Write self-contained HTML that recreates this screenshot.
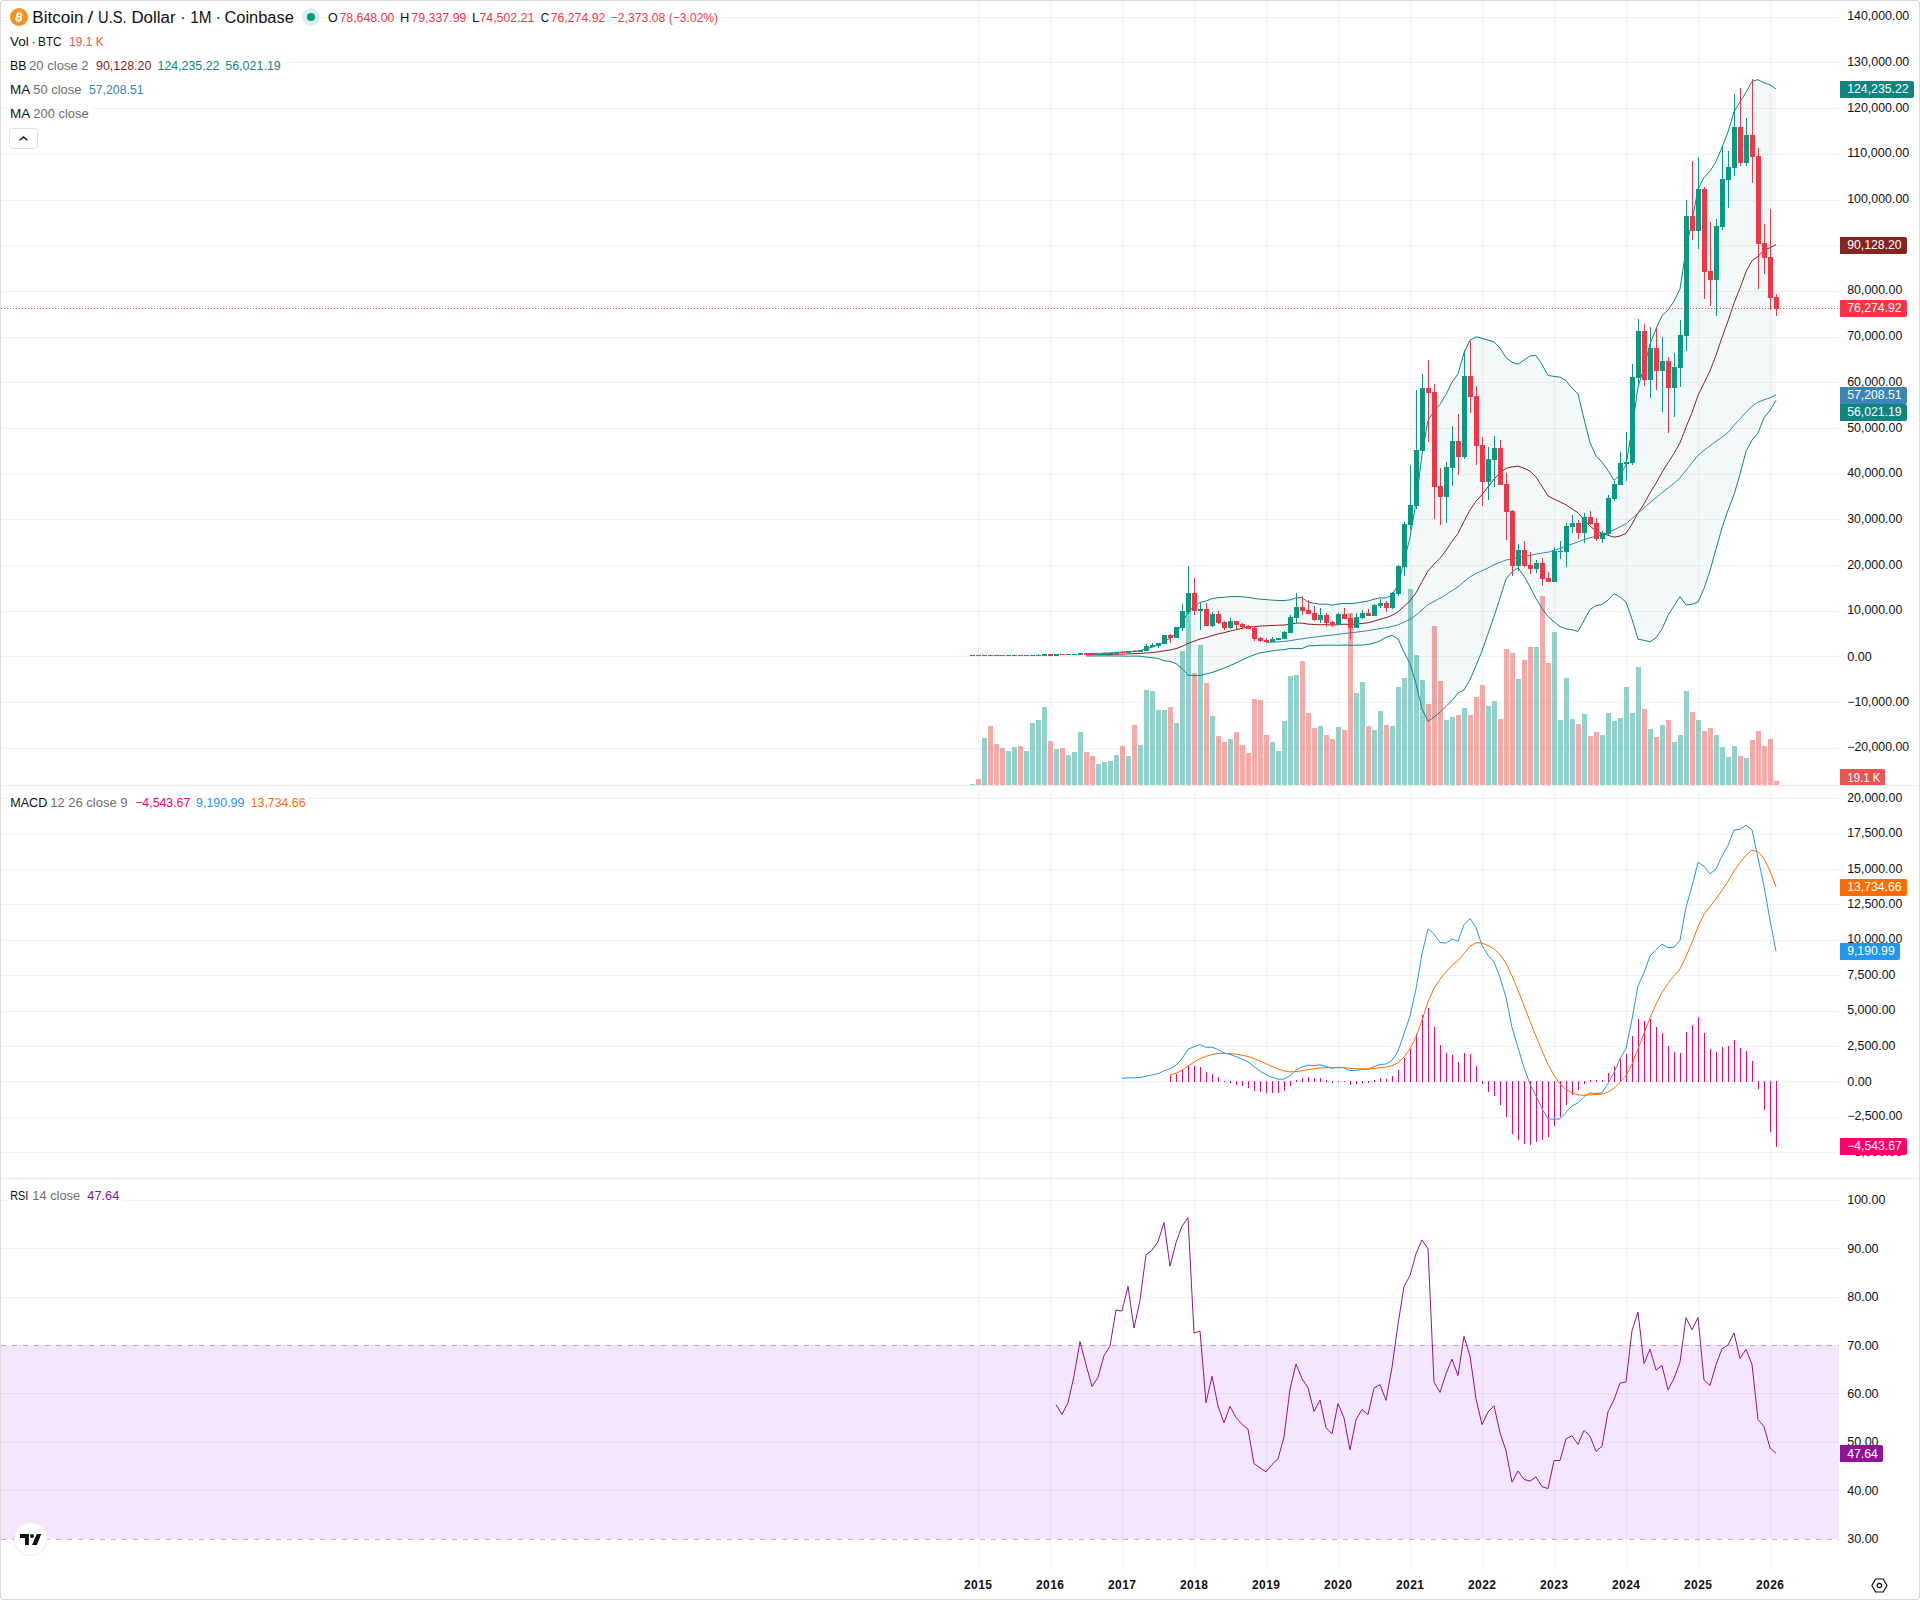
<!DOCTYPE html>
<html><head><meta charset="utf-8"><title>BTCUSD chart</title>
<style>
html,body{margin:0;padding:0;background:#fff;}
body{width:1920px;height:1600px;overflow:hidden;position:relative;font-family:"Liberation Sans",sans-serif;}
#frame{position:absolute;left:0;top:0;width:1918px;height:1598px;border:1px solid #dbdbde;border-radius:3px;background:#fff;}
svg text{font-family:"Liberation Sans",sans-serif;}
</style></head><body>
<div id="frame"></div>
<svg width="1920" height="1600" viewBox="0 0 1920 1600" style="position:absolute;left:0;top:0">
<g shape-rendering="crispEdges" fill="rgba(0,0,0,0.052)">
<rect x="978" y="1" width="1" height="784"/>
<rect x="978" y="786" width="1" height="392"/>
<rect x="978" y="1179" width="1" height="392"/>
<rect x="1050" y="1" width="1" height="784"/>
<rect x="1050" y="786" width="1" height="392"/>
<rect x="1050" y="1179" width="1" height="392"/>
<rect x="1122" y="1" width="1" height="784"/>
<rect x="1122" y="786" width="1" height="392"/>
<rect x="1122" y="1179" width="1" height="392"/>
<rect x="1194" y="1" width="1" height="784"/>
<rect x="1194" y="786" width="1" height="392"/>
<rect x="1194" y="1179" width="1" height="392"/>
<rect x="1266" y="1" width="1" height="784"/>
<rect x="1266" y="786" width="1" height="392"/>
<rect x="1266" y="1179" width="1" height="392"/>
<rect x="1338" y="1" width="1" height="784"/>
<rect x="1338" y="786" width="1" height="392"/>
<rect x="1338" y="1179" width="1" height="392"/>
<rect x="1410" y="1" width="1" height="784"/>
<rect x="1410" y="786" width="1" height="392"/>
<rect x="1410" y="1179" width="1" height="392"/>
<rect x="1482" y="1" width="1" height="784"/>
<rect x="1482" y="786" width="1" height="392"/>
<rect x="1482" y="1179" width="1" height="392"/>
<rect x="1554" y="1" width="1" height="784"/>
<rect x="1554" y="786" width="1" height="392"/>
<rect x="1554" y="1179" width="1" height="392"/>
<rect x="1626" y="1" width="1" height="784"/>
<rect x="1626" y="786" width="1" height="392"/>
<rect x="1626" y="1179" width="1" height="392"/>
<rect x="1698" y="1" width="1" height="784"/>
<rect x="1698" y="786" width="1" height="392"/>
<rect x="1698" y="1179" width="1" height="392"/>
<rect x="1770" y="1" width="1" height="784"/>
<rect x="1770" y="786" width="1" height="392"/>
<rect x="1770" y="1179" width="1" height="392"/>
<rect x="1" y="748" width="1838" height="1"/>
<rect x="1" y="702" width="1838" height="1"/>
<rect x="1" y="656" width="1838" height="1"/>
<rect x="1" y="611" width="1838" height="1"/>
<rect x="1" y="565" width="1838" height="1"/>
<rect x="1" y="519" width="1838" height="1"/>
<rect x="1" y="474" width="1838" height="1"/>
<rect x="1" y="428" width="1838" height="1"/>
<rect x="1" y="382" width="1838" height="1"/>
<rect x="1" y="337" width="1838" height="1"/>
<rect x="1" y="291" width="1838" height="1"/>
<rect x="1" y="245" width="1838" height="1"/>
<rect x="1" y="200" width="1838" height="1"/>
<rect x="1" y="154" width="1838" height="1"/>
<rect x="1" y="108" width="1838" height="1"/>
<rect x="1" y="62" width="1838" height="1"/>
<rect x="1" y="17" width="1838" height="1"/>
<rect x="1" y="1152" width="1838" height="1"/>
<rect x="1" y="1117" width="1838" height="1"/>
<rect x="1" y="1081" width="1838" height="1"/>
<rect x="1" y="1046" width="1838" height="1"/>
<rect x="1" y="1011" width="1838" height="1"/>
<rect x="1" y="975" width="1838" height="1"/>
<rect x="1" y="940" width="1838" height="1"/>
<rect x="1" y="904" width="1838" height="1"/>
<rect x="1" y="869" width="1838" height="1"/>
<rect x="1" y="834" width="1838" height="1"/>
<rect x="1" y="798" width="1838" height="1"/>
<rect x="1" y="1490" width="1838" height="1"/>
<rect x="1" y="1442" width="1838" height="1"/>
<rect x="1" y="1393" width="1838" height="1"/>
<rect x="1" y="1297" width="1838" height="1"/>
<rect x="1" y="1248" width="1838" height="1"/>
<rect x="1" y="1200" width="1838" height="1"/>
</g>
<g shape-rendering="crispEdges" fill="#ebebeb"><rect x="1" y="785" width="1918" height="1"/><rect x="1" y="1178" width="1918" height="1"/></g>
<rect x="1" y="1345" width="1838" height="194" fill="rgba(156,39,240,0.115)" shape-rendering="crispEdges"/>
<line x1="1" y1="1345.5" x2="1839" y2="1345.5" stroke="#787b86" stroke-opacity="0.55" stroke-width="1" stroke-dasharray="5 6" shape-rendering="crispEdges"/>
<line x1="1" y1="1539.5" x2="1839" y2="1539.5" stroke="#787b86" stroke-opacity="0.55" stroke-width="1" stroke-dasharray="5 6" shape-rendering="crispEdges"/>
<g shape-rendering="crispEdges">
<rect x="970" y="784" width="5" height="1" fill="rgba(38,166,154,0.5)"/>
<rect x="976" y="779" width="5" height="6" fill="rgba(239,83,80,0.5)"/>
<rect x="982" y="738" width="5" height="47" fill="rgba(38,166,154,0.5)"/>
<rect x="988" y="726" width="5" height="59" fill="rgba(239,83,80,0.5)"/>
<rect x="994" y="744" width="5" height="41" fill="rgba(239,83,80,0.5)"/>
<rect x="1000" y="748" width="5" height="37" fill="rgba(239,83,80,0.5)"/>
<rect x="1006" y="751" width="5" height="34" fill="rgba(38,166,154,0.5)"/>
<rect x="1012" y="747" width="5" height="38" fill="rgba(38,166,154,0.5)"/>
<rect x="1018" y="746" width="5" height="39" fill="rgba(239,83,80,0.5)"/>
<rect x="1024" y="751" width="5" height="34" fill="rgba(38,166,154,0.5)"/>
<rect x="1030" y="723" width="5" height="62" fill="rgba(38,166,154,0.5)"/>
<rect x="1036" y="720" width="5" height="65" fill="rgba(38,166,154,0.5)"/>
<rect x="1042" y="707" width="5" height="78" fill="rgba(38,166,154,0.5)"/>
<rect x="1048" y="741" width="5" height="44" fill="rgba(239,83,80,0.5)"/>
<rect x="1054" y="749" width="5" height="36" fill="rgba(38,166,154,0.5)"/>
<rect x="1060" y="748" width="5" height="37" fill="rgba(239,83,80,0.5)"/>
<rect x="1066" y="755" width="5" height="30" fill="rgba(38,166,154,0.5)"/>
<rect x="1072" y="752" width="5" height="33" fill="rgba(38,166,154,0.5)"/>
<rect x="1078" y="732" width="5" height="53" fill="rgba(38,166,154,0.5)"/>
<rect x="1084" y="752" width="5" height="33" fill="rgba(239,83,80,0.5)"/>
<rect x="1090" y="756" width="5" height="29" fill="rgba(239,83,80,0.5)"/>
<rect x="1096" y="764" width="5" height="21" fill="rgba(38,166,154,0.5)"/>
<rect x="1102" y="762" width="5" height="23" fill="rgba(38,166,154,0.5)"/>
<rect x="1108" y="761" width="5" height="24" fill="rgba(38,166,154,0.5)"/>
<rect x="1114" y="755" width="5" height="30" fill="rgba(38,166,154,0.5)"/>
<rect x="1120" y="746" width="5" height="39" fill="rgba(239,83,80,0.5)"/>
<rect x="1126" y="756" width="5" height="29" fill="rgba(38,166,154,0.5)"/>
<rect x="1132" y="725" width="5" height="60" fill="rgba(239,83,80,0.5)"/>
<rect x="1138" y="745" width="5" height="40" fill="rgba(38,166,154,0.5)"/>
<rect x="1144" y="690" width="5" height="95" fill="rgba(38,166,154,0.5)"/>
<rect x="1150" y="691" width="5" height="94" fill="rgba(38,166,154,0.5)"/>
<rect x="1156" y="710" width="5" height="75" fill="rgba(38,166,154,0.5)"/>
<rect x="1162" y="710" width="5" height="75" fill="rgba(38,166,154,0.5)"/>
<rect x="1168" y="707" width="5" height="78" fill="rgba(239,83,80,0.5)"/>
<rect x="1174" y="723" width="5" height="62" fill="rgba(38,166,154,0.5)"/>
<rect x="1180" y="651" width="5" height="134" fill="rgba(38,166,154,0.5)"/>
<rect x="1186" y="612" width="5" height="173" fill="rgba(38,166,154,0.5)"/>
<rect x="1192" y="673" width="5" height="112" fill="rgba(239,83,80,0.5)"/>
<rect x="1198" y="645" width="5" height="140" fill="rgba(38,166,154,0.5)"/>
<rect x="1204" y="683" width="5" height="102" fill="rgba(239,83,80,0.5)"/>
<rect x="1210" y="716" width="5" height="69" fill="rgba(38,166,154,0.5)"/>
<rect x="1216" y="736" width="5" height="49" fill="rgba(239,83,80,0.5)"/>
<rect x="1222" y="742" width="5" height="43" fill="rgba(239,83,80,0.5)"/>
<rect x="1228" y="739" width="5" height="46" fill="rgba(38,166,154,0.5)"/>
<rect x="1234" y="732" width="5" height="53" fill="rgba(239,83,80,0.5)"/>
<rect x="1240" y="745" width="5" height="40" fill="rgba(239,83,80,0.5)"/>
<rect x="1246" y="753" width="5" height="32" fill="rgba(239,83,80,0.5)"/>
<rect x="1252" y="699" width="5" height="86" fill="rgba(239,83,80,0.5)"/>
<rect x="1258" y="700" width="5" height="85" fill="rgba(239,83,80,0.5)"/>
<rect x="1264" y="735" width="5" height="50" fill="rgba(239,83,80,0.5)"/>
<rect x="1270" y="742" width="5" height="43" fill="rgba(38,166,154,0.5)"/>
<rect x="1276" y="751" width="5" height="34" fill="rgba(38,166,154,0.5)"/>
<rect x="1282" y="721" width="5" height="64" fill="rgba(38,166,154,0.5)"/>
<rect x="1288" y="676" width="5" height="109" fill="rgba(38,166,154,0.5)"/>
<rect x="1294" y="675" width="5" height="110" fill="rgba(38,166,154,0.5)"/>
<rect x="1300" y="661" width="5" height="124" fill="rgba(239,83,80,0.5)"/>
<rect x="1306" y="713" width="5" height="72" fill="rgba(239,83,80,0.5)"/>
<rect x="1312" y="728" width="5" height="57" fill="rgba(239,83,80,0.5)"/>
<rect x="1318" y="726" width="5" height="59" fill="rgba(38,166,154,0.5)"/>
<rect x="1324" y="735" width="5" height="50" fill="rgba(239,83,80,0.5)"/>
<rect x="1330" y="739" width="5" height="46" fill="rgba(239,83,80,0.5)"/>
<rect x="1336" y="727" width="5" height="58" fill="rgba(38,166,154,0.5)"/>
<rect x="1342" y="730" width="5" height="55" fill="rgba(239,83,80,0.5)"/>
<rect x="1348" y="613" width="5" height="172" fill="rgba(239,83,80,0.5)"/>
<rect x="1354" y="693" width="5" height="92" fill="rgba(38,166,154,0.5)"/>
<rect x="1360" y="682" width="5" height="103" fill="rgba(38,166,154,0.5)"/>
<rect x="1366" y="726" width="5" height="59" fill="rgba(239,83,80,0.5)"/>
<rect x="1372" y="730" width="5" height="55" fill="rgba(38,166,154,0.5)"/>
<rect x="1378" y="711" width="5" height="74" fill="rgba(38,166,154,0.5)"/>
<rect x="1384" y="725" width="5" height="60" fill="rgba(239,83,80,0.5)"/>
<rect x="1390" y="726" width="5" height="59" fill="rgba(38,166,154,0.5)"/>
<rect x="1396" y="687" width="5" height="98" fill="rgba(38,166,154,0.5)"/>
<rect x="1402" y="678" width="5" height="107" fill="rgba(38,166,154,0.5)"/>
<rect x="1408" y="589" width="5" height="196" fill="rgba(38,166,154,0.5)"/>
<rect x="1414" y="655" width="5" height="130" fill="rgba(38,166,154,0.5)"/>
<rect x="1420" y="680" width="5" height="105" fill="rgba(38,166,154,0.5)"/>
<rect x="1426" y="704" width="5" height="81" fill="rgba(239,83,80,0.5)"/>
<rect x="1432" y="626" width="5" height="159" fill="rgba(239,83,80,0.5)"/>
<rect x="1438" y="681" width="5" height="104" fill="rgba(239,83,80,0.5)"/>
<rect x="1444" y="720" width="5" height="65" fill="rgba(38,166,154,0.5)"/>
<rect x="1450" y="717" width="5" height="68" fill="rgba(38,166,154,0.5)"/>
<rect x="1456" y="715" width="5" height="70" fill="rgba(239,83,80,0.5)"/>
<rect x="1462" y="708" width="5" height="77" fill="rgba(38,166,154,0.5)"/>
<rect x="1468" y="715" width="5" height="70" fill="rgba(239,83,80,0.5)"/>
<rect x="1474" y="697" width="5" height="88" fill="rgba(239,83,80,0.5)"/>
<rect x="1480" y="685" width="5" height="100" fill="rgba(239,83,80,0.5)"/>
<rect x="1486" y="706" width="5" height="79" fill="rgba(38,166,154,0.5)"/>
<rect x="1492" y="701" width="5" height="84" fill="rgba(38,166,154,0.5)"/>
<rect x="1498" y="719" width="5" height="66" fill="rgba(239,83,80,0.5)"/>
<rect x="1504" y="649" width="5" height="136" fill="rgba(239,83,80,0.5)"/>
<rect x="1510" y="653" width="5" height="132" fill="rgba(239,83,80,0.5)"/>
<rect x="1516" y="679" width="5" height="106" fill="rgba(38,166,154,0.5)"/>
<rect x="1522" y="660" width="5" height="125" fill="rgba(239,83,80,0.5)"/>
<rect x="1528" y="647" width="5" height="138" fill="rgba(239,83,80,0.5)"/>
<rect x="1534" y="647" width="5" height="138" fill="rgba(38,166,154,0.5)"/>
<rect x="1540" y="596" width="5" height="189" fill="rgba(239,83,80,0.5)"/>
<rect x="1546" y="663" width="5" height="122" fill="rgba(239,83,80,0.5)"/>
<rect x="1552" y="632" width="5" height="153" fill="rgba(38,166,154,0.5)"/>
<rect x="1558" y="720" width="5" height="65" fill="rgba(38,166,154,0.5)"/>
<rect x="1564" y="678" width="5" height="107" fill="rgba(38,166,154,0.5)"/>
<rect x="1570" y="719" width="5" height="66" fill="rgba(38,166,154,0.5)"/>
<rect x="1576" y="724" width="5" height="61" fill="rgba(239,83,80,0.5)"/>
<rect x="1582" y="714" width="5" height="71" fill="rgba(38,166,154,0.5)"/>
<rect x="1588" y="736" width="5" height="49" fill="rgba(239,83,80,0.5)"/>
<rect x="1594" y="732" width="5" height="53" fill="rgba(239,83,80,0.5)"/>
<rect x="1600" y="735" width="5" height="50" fill="rgba(38,166,154,0.5)"/>
<rect x="1606" y="713" width="5" height="72" fill="rgba(38,166,154,0.5)"/>
<rect x="1612" y="721" width="5" height="64" fill="rgba(38,166,154,0.5)"/>
<rect x="1618" y="718" width="5" height="67" fill="rgba(38,166,154,0.5)"/>
<rect x="1624" y="687" width="5" height="98" fill="rgba(38,166,154,0.5)"/>
<rect x="1630" y="713" width="5" height="72" fill="rgba(38,166,154,0.5)"/>
<rect x="1636" y="667" width="5" height="118" fill="rgba(38,166,154,0.5)"/>
<rect x="1642" y="709" width="5" height="76" fill="rgba(239,83,80,0.5)"/>
<rect x="1648" y="729" width="5" height="56" fill="rgba(38,166,154,0.5)"/>
<rect x="1654" y="737" width="5" height="48" fill="rgba(239,83,80,0.5)"/>
<rect x="1660" y="725" width="5" height="60" fill="rgba(38,166,154,0.5)"/>
<rect x="1666" y="720" width="5" height="65" fill="rgba(239,83,80,0.5)"/>
<rect x="1672" y="742" width="5" height="43" fill="rgba(38,166,154,0.5)"/>
<rect x="1678" y="735" width="5" height="50" fill="rgba(38,166,154,0.5)"/>
<rect x="1684" y="691" width="5" height="94" fill="rgba(38,166,154,0.5)"/>
<rect x="1690" y="712" width="5" height="73" fill="rgba(239,83,80,0.5)"/>
<rect x="1696" y="720" width="5" height="65" fill="rgba(38,166,154,0.5)"/>
<rect x="1702" y="731" width="5" height="54" fill="rgba(239,83,80,0.5)"/>
<rect x="1708" y="728" width="5" height="57" fill="rgba(239,83,80,0.5)"/>
<rect x="1714" y="735" width="5" height="50" fill="rgba(38,166,154,0.5)"/>
<rect x="1720" y="747" width="5" height="38" fill="rgba(38,166,154,0.5)"/>
<rect x="1726" y="757" width="5" height="28" fill="rgba(38,166,154,0.5)"/>
<rect x="1732" y="746" width="5" height="39" fill="rgba(38,166,154,0.5)"/>
<rect x="1738" y="756" width="5" height="29" fill="rgba(239,83,80,0.5)"/>
<rect x="1744" y="758" width="5" height="27" fill="rgba(38,166,154,0.5)"/>
<rect x="1750" y="740" width="5" height="45" fill="rgba(239,83,80,0.5)"/>
<rect x="1756" y="731" width="5" height="54" fill="rgba(239,83,80,0.5)"/>
<rect x="1762" y="746" width="5" height="39" fill="rgba(239,83,80,0.5)"/>
<rect x="1768" y="739" width="5" height="46" fill="rgba(239,83,80,0.5)"/>
<rect x="1774" y="781" width="5" height="4" fill="rgba(239,83,80,0.5)"/>
</g>
<path d="M1086.0 653.6 L1092.0 653.4 L1098.0 653.3 L1104.0 653.1 L1110.0 652.9 L1116.0 652.4 L1122.0 652.1 L1128.0 651.5 L1134.0 651.2 L1140.0 650.7 L1146.0 648.8 L1152.0 647.2 L1158.0 645.4 L1164.0 641.1 L1170.0 638.6 L1176.0 633.6 L1182.0 624.4 L1188.0 611.7 L1194.0 606.8 L1200.0 602.4 L1206.0 601.1 L1212.0 598.6 L1218.0 597.6 L1224.0 597.3 L1230.0 596.6 L1236.0 596.5 L1242.0 596.8 L1248.0 597.4 L1254.0 598.3 L1260.0 599.2 L1266.0 599.6 L1272.0 600.1 L1278.0 600.5 L1284.0 600.5 L1290.0 599.9 L1296.0 597.8 L1302.0 597.7 L1308.0 602.1 L1314.0 603.3 L1320.0 604.2 L1326.0 604.1 L1332.0 605.1 L1338.0 604.1 L1344.0 603.4 L1350.0 603.7 L1356.0 603.1 L1362.0 602.0 L1368.0 601.1 L1374.0 599.2 L1380.0 597.8 L1386.0 597.9 L1392.0 595.4 L1398.0 584.9 L1404.0 560.9 L1410.0 537.8 L1416.0 501.9 L1422.0 454.8 L1428.0 420.3 L1434.0 411.0 L1440.0 404.2 L1446.0 394.5 L1452.0 382.2 L1458.0 373.9 L1464.0 352.8 L1470.0 340.2 L1476.0 336.9 L1482.0 338.3 L1488.0 340.0 L1494.0 341.8 L1500.0 348.1 L1506.0 357.7 L1512.0 362.1 L1518.0 364.2 L1524.0 360.2 L1530.0 355.9 L1536.0 355.4 L1542.0 364.5 L1548.0 375.4 L1554.0 376.4 L1560.0 377.1 L1566.0 380.7 L1572.0 388.1 L1578.0 394.0 L1584.0 418.9 L1590.0 442.6 L1596.0 455.8 L1602.0 462.1 L1608.0 470.4 L1614.0 480.4 L1620.0 474.9 L1626.0 465.1 L1632.0 429.0 L1638.0 387.0 L1644.0 367.5 L1650.0 344.0 L1656.0 328.8 L1662.0 315.7 L1668.0 310.1 L1674.0 301.1 L1680.0 288.9 L1686.0 249.5 L1692.0 221.0 L1698.0 188.8 L1704.0 177.6 L1710.0 171.2 L1716.0 161.6 L1722.0 147.4 L1728.0 131.9 L1734.0 111.7 L1740.0 102.0 L1746.0 92.3 L1752.0 81.3 L1758.0 79.7 L1764.0 82.8 L1770.0 84.8 L1776.0 88.9 L1776.0 400.3 L1770.0 410.6 L1764.0 417.7 L1758.0 433.1 L1752.0 440.2 L1746.0 451.3 L1740.0 474.3 L1734.0 494.7 L1728.0 510.2 L1722.0 527.8 L1716.0 549.1 L1710.0 570.6 L1704.0 588.6 L1698.0 602.1 L1692.0 604.2 L1686.0 605.0 L1680.0 596.6 L1674.0 605.9 L1668.0 615.3 L1662.0 629.1 L1656.0 637.7 L1650.0 641.8 L1644.0 640.3 L1638.0 639.2 L1632.0 619.2 L1626.0 602.0 L1620.0 597.1 L1614.0 593.7 L1608.0 600.1 L1602.0 604.5 L1596.0 605.5 L1590.0 609.5 L1584.0 620.6 L1578.0 631.4 L1572.0 629.7 L1566.0 628.9 L1560.0 626.6 L1554.0 621.8 L1548.0 616.4 L1542.0 608.4 L1536.0 598.5 L1530.0 586.7 L1524.0 576.1 L1518.0 568.0 L1512.0 571.8 L1506.0 579.0 L1500.0 598.2 L1494.0 616.4 L1488.0 633.8 L1482.0 651.0 L1476.0 665.7 L1470.0 679.6 L1464.0 690.0 L1458.0 693.1 L1452.0 700.5 L1446.0 706.5 L1440.0 712.3 L1434.0 717.3 L1428.0 721.3 L1422.0 708.8 L1416.0 683.9 L1410.0 663.8 L1404.0 651.9 L1398.0 638.8 L1392.0 635.3 L1386.0 637.4 L1380.0 640.9 L1374.0 643.1 L1368.0 644.6 L1362.0 645.0 L1356.0 645.2 L1350.0 645.3 L1344.0 645.0 L1338.0 645.3 L1332.0 645.1 L1326.0 645.2 L1320.0 645.3 L1314.0 645.7 L1308.0 646.0 L1302.0 648.5 L1296.0 648.5 L1290.0 648.4 L1284.0 649.7 L1278.0 650.0 L1272.0 650.9 L1266.0 652.0 L1260.0 652.9 L1254.0 654.9 L1248.0 657.2 L1242.0 660.1 L1236.0 663.0 L1230.0 665.6 L1224.0 668.1 L1218.0 670.4 L1212.0 672.5 L1206.0 674.0 L1200.0 675.5 L1194.0 675.6 L1188.0 675.1 L1182.0 668.4 L1176.0 663.6 L1170.0 661.4 L1164.0 660.7 L1158.0 658.4 L1152.0 657.7 L1146.0 657.1 L1140.0 656.2 L1134.0 656.1 L1128.0 656.2 L1122.0 656.0 L1116.0 656.0 L1110.0 655.9 L1104.0 655.9 L1098.0 655.9 L1092.0 656.0 L1086.0 656.0Z" fill="rgba(17,132,128,0.05)"/>
<path d="M1086.0 654.8 L1092.0 654.7 L1098.0 654.6 L1104.0 654.5 L1110.0 654.4 L1116.0 654.2 L1122.0 654.1 L1128.0 653.9 L1134.0 653.7 L1140.0 653.4 L1146.0 653.0 L1152.0 652.5 L1158.0 651.9 L1164.0 650.9 L1170.0 650.0 L1176.0 648.6 L1182.0 646.4 L1188.0 643.4 L1194.0 641.2 L1200.0 639.0 L1206.0 637.6 L1212.0 635.6 L1218.0 634.0 L1224.0 632.7 L1230.0 631.1 L1236.0 629.7 L1242.0 628.4 L1248.0 627.3 L1254.0 626.6 L1260.0 626.1 L1266.0 625.8 L1272.0 625.5 L1278.0 625.2 L1284.0 625.1 L1290.0 624.2 L1296.0 623.1 L1302.0 623.1 L1308.0 624.1 L1314.0 624.5 L1320.0 624.8 L1326.0 624.6 L1332.0 625.1 L1338.0 624.7 L1344.0 624.2 L1350.0 624.5 L1356.0 624.1 L1362.0 623.5 L1368.0 622.8 L1374.0 621.2 L1380.0 619.3 L1386.0 617.7 L1392.0 615.4 L1398.0 611.8 L1404.0 606.4 L1410.0 600.8 L1416.0 592.9 L1422.0 581.8 L1428.0 570.8 L1434.0 564.2 L1440.0 558.2 L1446.0 550.5 L1452.0 541.4 L1458.0 533.5 L1464.0 521.4 L1470.0 509.9 L1476.0 501.3 L1482.0 494.7 L1488.0 486.9 L1494.0 479.1 L1500.0 473.1 L1506.0 468.3 L1512.0 466.9 L1518.0 466.1 L1524.0 468.2 L1530.0 471.3 L1536.0 476.9 L1542.0 486.4 L1548.0 495.9 L1554.0 499.1 L1560.0 501.8 L1566.0 504.8 L1572.0 508.9 L1578.0 512.7 L1584.0 519.7 L1590.0 526.1 L1596.0 530.7 L1602.0 533.3 L1608.0 535.3 L1614.0 537.1 L1620.0 536.0 L1626.0 533.5 L1632.0 524.1 L1638.0 513.1 L1644.0 503.9 L1650.0 492.9 L1656.0 483.2 L1662.0 472.4 L1668.0 462.7 L1674.0 453.5 L1680.0 442.8 L1686.0 427.2 L1692.0 412.6 L1698.0 395.4 L1704.0 383.1 L1710.0 370.9 L1716.0 355.3 L1722.0 337.6 L1728.0 321.0 L1734.0 303.2 L1740.0 288.1 L1746.0 271.8 L1752.0 260.7 L1758.0 256.4 L1764.0 250.2 L1770.0 247.7 L1776.0 244.6" fill="none" stroke="#872323" stroke-width="1" stroke-linejoin="round"/>
<path d="M1086.0 653.6 L1092.0 653.4 L1098.0 653.3 L1104.0 653.1 L1110.0 652.9 L1116.0 652.4 L1122.0 652.1 L1128.0 651.5 L1134.0 651.2 L1140.0 650.7 L1146.0 648.8 L1152.0 647.2 L1158.0 645.4 L1164.0 641.1 L1170.0 638.6 L1176.0 633.6 L1182.0 624.4 L1188.0 611.7 L1194.0 606.8 L1200.0 602.4 L1206.0 601.1 L1212.0 598.6 L1218.0 597.6 L1224.0 597.3 L1230.0 596.6 L1236.0 596.5 L1242.0 596.8 L1248.0 597.4 L1254.0 598.3 L1260.0 599.2 L1266.0 599.6 L1272.0 600.1 L1278.0 600.5 L1284.0 600.5 L1290.0 599.9 L1296.0 597.8 L1302.0 597.7 L1308.0 602.1 L1314.0 603.3 L1320.0 604.2 L1326.0 604.1 L1332.0 605.1 L1338.0 604.1 L1344.0 603.4 L1350.0 603.7 L1356.0 603.1 L1362.0 602.0 L1368.0 601.1 L1374.0 599.2 L1380.0 597.8 L1386.0 597.9 L1392.0 595.4 L1398.0 584.9 L1404.0 560.9 L1410.0 537.8 L1416.0 501.9 L1422.0 454.8 L1428.0 420.3 L1434.0 411.0 L1440.0 404.2 L1446.0 394.5 L1452.0 382.2 L1458.0 373.9 L1464.0 352.8 L1470.0 340.2 L1476.0 336.9 L1482.0 338.3 L1488.0 340.0 L1494.0 341.8 L1500.0 348.1 L1506.0 357.7 L1512.0 362.1 L1518.0 364.2 L1524.0 360.2 L1530.0 355.9 L1536.0 355.4 L1542.0 364.5 L1548.0 375.4 L1554.0 376.4 L1560.0 377.1 L1566.0 380.7 L1572.0 388.1 L1578.0 394.0 L1584.0 418.9 L1590.0 442.6 L1596.0 455.8 L1602.0 462.1 L1608.0 470.4 L1614.0 480.4 L1620.0 474.9 L1626.0 465.1 L1632.0 429.0 L1638.0 387.0 L1644.0 367.5 L1650.0 344.0 L1656.0 328.8 L1662.0 315.7 L1668.0 310.1 L1674.0 301.1 L1680.0 288.9 L1686.0 249.5 L1692.0 221.0 L1698.0 188.8 L1704.0 177.6 L1710.0 171.2 L1716.0 161.6 L1722.0 147.4 L1728.0 131.9 L1734.0 111.7 L1740.0 102.0 L1746.0 92.3 L1752.0 81.3 L1758.0 79.7 L1764.0 82.8 L1770.0 84.8 L1776.0 88.9" fill="none" stroke="#118480" stroke-width="1" stroke-linejoin="round"/>
<path d="M1086.0 656.0 L1092.0 656.0 L1098.0 655.9 L1104.0 655.9 L1110.0 655.9 L1116.0 656.0 L1122.0 656.0 L1128.0 656.2 L1134.0 656.1 L1140.0 656.2 L1146.0 657.1 L1152.0 657.7 L1158.0 658.4 L1164.0 660.7 L1170.0 661.4 L1176.0 663.6 L1182.0 668.4 L1188.0 675.1 L1194.0 675.6 L1200.0 675.5 L1206.0 674.0 L1212.0 672.5 L1218.0 670.4 L1224.0 668.1 L1230.0 665.6 L1236.0 663.0 L1242.0 660.1 L1248.0 657.2 L1254.0 654.9 L1260.0 652.9 L1266.0 652.0 L1272.0 650.9 L1278.0 650.0 L1284.0 649.7 L1290.0 648.4 L1296.0 648.5 L1302.0 648.5 L1308.0 646.0 L1314.0 645.7 L1320.0 645.3 L1326.0 645.2 L1332.0 645.1 L1338.0 645.3 L1344.0 645.0 L1350.0 645.3 L1356.0 645.2 L1362.0 645.0 L1368.0 644.6 L1374.0 643.1 L1380.0 640.9 L1386.0 637.4 L1392.0 635.3 L1398.0 638.8 L1404.0 651.9 L1410.0 663.8 L1416.0 683.9 L1422.0 708.8 L1428.0 721.3 L1434.0 717.3 L1440.0 712.3 L1446.0 706.5 L1452.0 700.5 L1458.0 693.1 L1464.0 690.0 L1470.0 679.6 L1476.0 665.7 L1482.0 651.0 L1488.0 633.8 L1494.0 616.4 L1500.0 598.2 L1506.0 579.0 L1512.0 571.8 L1518.0 568.0 L1524.0 576.1 L1530.0 586.7 L1536.0 598.5 L1542.0 608.4 L1548.0 616.4 L1554.0 621.8 L1560.0 626.6 L1566.0 628.9 L1572.0 629.7 L1578.0 631.4 L1584.0 620.6 L1590.0 609.5 L1596.0 605.5 L1602.0 604.5 L1608.0 600.1 L1614.0 593.7 L1620.0 597.1 L1626.0 602.0 L1632.0 619.2 L1638.0 639.2 L1644.0 640.3 L1650.0 641.8 L1656.0 637.7 L1662.0 629.1 L1668.0 615.3 L1674.0 605.9 L1680.0 596.6 L1686.0 605.0 L1692.0 604.2 L1698.0 602.1 L1704.0 588.6 L1710.0 570.6 L1716.0 549.1 L1722.0 527.8 L1728.0 510.2 L1734.0 494.7 L1740.0 474.3 L1746.0 451.3 L1752.0 440.2 L1758.0 433.1 L1764.0 417.7 L1770.0 410.6 L1776.0 400.3" fill="none" stroke="#118480" stroke-width="1" stroke-linejoin="round"/>
<path d="M1266.0 642.6 L1272.0 642.2 L1278.0 641.9 L1284.0 641.4 L1290.0 640.7 L1296.0 639.7 L1302.0 638.8 L1308.0 637.9 L1314.0 637.2 L1320.0 636.4 L1326.0 635.7 L1332.0 635.1 L1338.0 634.3 L1344.0 633.5 L1350.0 633.0 L1356.0 632.2 L1362.0 631.4 L1368.0 630.6 L1374.0 629.6 L1380.0 628.6 L1386.0 627.7 L1392.0 626.5 L1398.0 624.8 L1404.0 622.2 L1410.0 619.2 L1416.0 615.2 L1422.0 609.9 L1428.0 604.7 L1434.0 601.4 L1440.0 598.3 L1446.0 594.7 L1452.0 590.7 L1458.0 586.9 L1464.0 581.8 L1470.0 577.0 L1476.0 573.3 L1482.0 570.7 L1488.0 568.0 L1494.0 564.8 L1500.0 562.3 L1506.0 560.0 L1512.0 559.0 L1518.0 557.6 L1524.0 556.4 L1530.0 555.3 L1536.0 554.1 L1542.0 553.1 L1548.0 552.2 L1554.0 550.4 L1560.0 548.6 L1566.0 546.3 L1572.0 544.0 L1578.0 541.9 L1584.0 539.6 L1590.0 537.7 L1596.0 536.3 L1602.0 534.8 L1608.0 532.5 L1614.0 529.8 L1620.0 526.8 L1626.0 523.6 L1632.0 518.6 L1638.0 513.0 L1644.0 508.2 L1650.0 502.6 L1656.0 497.7 L1662.0 492.7 L1668.0 488.1 L1674.0 483.4 L1680.0 478.0 L1686.0 470.2 L1692.0 462.9 L1698.0 455.3 L1704.0 450.3 L1710.0 445.8 L1716.0 441.3 L1722.0 437.1 L1728.0 432.6 L1734.0 425.4 L1740.0 418.7 L1746.0 412.1 L1752.0 406.4 L1758.0 402.1 L1764.0 399.8 L1770.0 397.8 L1776.0 395.0" fill="none" stroke="#3b86b4" stroke-width="1" stroke-linejoin="round"/>
<g shape-rendering="crispEdges">
<rect x="972" y="655" width="1" height="1" fill="#089981"/>
<rect x="970" y="655" width="5" height="1" fill="#089981"/>
<rect x="978" y="655" width="1" height="1" fill="#f23645"/>
<rect x="976" y="655" width="5" height="1" fill="#f23645"/>
<rect x="984" y="655" width="1" height="1" fill="#089981"/>
<rect x="982" y="655" width="5" height="1" fill="#089981"/>
<rect x="990" y="655" width="1" height="1" fill="#f23645"/>
<rect x="988" y="655" width="5" height="1" fill="#f23645"/>
<rect x="996" y="655" width="1" height="1" fill="#f23645"/>
<rect x="994" y="655" width="5" height="1" fill="#f23645"/>
<rect x="1002" y="655" width="1" height="1" fill="#f23645"/>
<rect x="1000" y="655" width="5" height="1" fill="#f23645"/>
<rect x="1008" y="655" width="1" height="1" fill="#089981"/>
<rect x="1006" y="655" width="5" height="1" fill="#089981"/>
<rect x="1014" y="655" width="1" height="1" fill="#089981"/>
<rect x="1012" y="655" width="5" height="1" fill="#089981"/>
<rect x="1020" y="655" width="1" height="1" fill="#f23645"/>
<rect x="1018" y="655" width="5" height="1" fill="#f23645"/>
<rect x="1026" y="655" width="1" height="1" fill="#089981"/>
<rect x="1024" y="655" width="5" height="1" fill="#089981"/>
<rect x="1032" y="655" width="1" height="1" fill="#089981"/>
<rect x="1030" y="655" width="5" height="1" fill="#089981"/>
<rect x="1038" y="654" width="1" height="1" fill="#089981"/>
<rect x="1036" y="655" width="5" height="1" fill="#089981"/>
<rect x="1044" y="654" width="1" height="1" fill="#089981"/>
<rect x="1042" y="654" width="5" height="2" fill="#089981"/>
<rect x="1050" y="654" width="1" height="1" fill="#f23645"/>
<rect x="1048" y="654" width="5" height="2" fill="#f23645"/>
<rect x="1056" y="654" width="1" height="1" fill="#089981"/>
<rect x="1054" y="654" width="5" height="2" fill="#089981"/>
<rect x="1062" y="654" width="1" height="1" fill="#f23645"/>
<rect x="1060" y="654" width="5" height="1" fill="#f23645"/>
<rect x="1068" y="654" width="1" height="1" fill="#089981"/>
<rect x="1066" y="654" width="5" height="1" fill="#089981"/>
<rect x="1074" y="654" width="1" height="1" fill="#089981"/>
<rect x="1072" y="654" width="5" height="1" fill="#089981"/>
<rect x="1080" y="653" width="1" height="1" fill="#089981"/>
<rect x="1078" y="653" width="5" height="2" fill="#089981"/>
<rect x="1086" y="653" width="1" height="1" fill="#f23645"/>
<rect x="1084" y="653" width="5" height="2" fill="#f23645"/>
<rect x="1092" y="654" width="1" height="1" fill="#f23645"/>
<rect x="1090" y="654" width="5" height="1" fill="#f23645"/>
<rect x="1098" y="654" width="1" height="1" fill="#089981"/>
<rect x="1096" y="654" width="5" height="1" fill="#089981"/>
<rect x="1104" y="653" width="1" height="1" fill="#089981"/>
<rect x="1102" y="653" width="5" height="2" fill="#089981"/>
<rect x="1110" y="653" width="1" height="1" fill="#089981"/>
<rect x="1108" y="653" width="5" height="1" fill="#089981"/>
<rect x="1116" y="652" width="1" height="1" fill="#089981"/>
<rect x="1114" y="652" width="5" height="2" fill="#089981"/>
<rect x="1122" y="651" width="1" height="2" fill="#f23645"/>
<rect x="1120" y="652" width="5" height="1" fill="#f23645"/>
<rect x="1128" y="651" width="1" height="1" fill="#089981"/>
<rect x="1126" y="651" width="5" height="2" fill="#089981"/>
<rect x="1134" y="650" width="1" height="2" fill="#f23645"/>
<rect x="1132" y="651" width="5" height="1" fill="#f23645"/>
<rect x="1140" y="650" width="1" height="1" fill="#089981"/>
<rect x="1138" y="650" width="5" height="2" fill="#089981"/>
<rect x="1146" y="644" width="1" height="6" fill="#089981"/>
<rect x="1144" y="646" width="5" height="5" fill="#089981"/>
<rect x="1152" y="643" width="1" height="4" fill="#089981"/>
<rect x="1150" y="645" width="5" height="2" fill="#089981"/>
<rect x="1158" y="643" width="1" height="5" fill="#089981"/>
<rect x="1156" y="643" width="5" height="3" fill="#089981"/>
<rect x="1164" y="635" width="1" height="9" fill="#089981"/>
<rect x="1162" y="635" width="5" height="9" fill="#089981"/>
<rect x="1170" y="634" width="1" height="9" fill="#f23645"/>
<rect x="1168" y="635" width="5" height="3" fill="#f23645"/>
<rect x="1176" y="627" width="1" height="11" fill="#089981"/>
<rect x="1174" y="627" width="5" height="11" fill="#089981"/>
<rect x="1182" y="604" width="1" height="27" fill="#089981"/>
<rect x="1180" y="611" width="5" height="17" fill="#089981"/>
<rect x="1188" y="566" width="1" height="48" fill="#089981"/>
<rect x="1186" y="593" width="5" height="19" fill="#089981"/>
<rect x="1194" y="578" width="1" height="37" fill="#f23645"/>
<rect x="1192" y="593" width="5" height="18" fill="#f23645"/>
<rect x="1200" y="603" width="1" height="27" fill="#089981"/>
<rect x="1198" y="609" width="5" height="2" fill="#089981"/>
<rect x="1206" y="603" width="1" height="23" fill="#f23645"/>
<rect x="1204" y="609" width="5" height="17" fill="#f23645"/>
<rect x="1212" y="612" width="1" height="15" fill="#089981"/>
<rect x="1210" y="614" width="5" height="12" fill="#089981"/>
<rect x="1218" y="611" width="1" height="13" fill="#f23645"/>
<rect x="1216" y="614" width="5" height="9" fill="#f23645"/>
<rect x="1224" y="621" width="1" height="9" fill="#f23645"/>
<rect x="1222" y="622" width="5" height="6" fill="#f23645"/>
<rect x="1230" y="618" width="1" height="11" fill="#089981"/>
<rect x="1228" y="621" width="5" height="7" fill="#089981"/>
<rect x="1236" y="621" width="1" height="9" fill="#f23645"/>
<rect x="1234" y="621" width="5" height="4" fill="#f23645"/>
<rect x="1242" y="623" width="1" height="6" fill="#f23645"/>
<rect x="1240" y="624" width="5" height="3" fill="#f23645"/>
<rect x="1248" y="625" width="1" height="4" fill="#f23645"/>
<rect x="1246" y="626" width="5" height="3" fill="#f23645"/>
<rect x="1254" y="626" width="1" height="15" fill="#f23645"/>
<rect x="1252" y="628" width="5" height="11" fill="#f23645"/>
<rect x="1260" y="637" width="1" height="5" fill="#f23645"/>
<rect x="1258" y="638" width="5" height="3" fill="#f23645"/>
<rect x="1266" y="638" width="1" height="3" fill="#f23645"/>
<rect x="1264" y="640" width="5" height="2" fill="#f23645"/>
<rect x="1272" y="637" width="1" height="4" fill="#089981"/>
<rect x="1270" y="639" width="5" height="3" fill="#089981"/>
<rect x="1278" y="638" width="1" height="1" fill="#089981"/>
<rect x="1276" y="638" width="5" height="2" fill="#089981"/>
<rect x="1284" y="631" width="1" height="7" fill="#089981"/>
<rect x="1282" y="632" width="5" height="7" fill="#089981"/>
<rect x="1290" y="615" width="1" height="17" fill="#089981"/>
<rect x="1288" y="617" width="5" height="16" fill="#089981"/>
<rect x="1296" y="593" width="1" height="30" fill="#089981"/>
<rect x="1294" y="607" width="5" height="11" fill="#089981"/>
<rect x="1302" y="596" width="1" height="19" fill="#f23645"/>
<rect x="1300" y="607" width="5" height="4" fill="#f23645"/>
<rect x="1308" y="600" width="1" height="14" fill="#f23645"/>
<rect x="1306" y="610" width="5" height="4" fill="#f23645"/>
<rect x="1314" y="606" width="1" height="15" fill="#f23645"/>
<rect x="1312" y="613" width="5" height="7" fill="#f23645"/>
<rect x="1320" y="608" width="1" height="15" fill="#089981"/>
<rect x="1318" y="615" width="5" height="5" fill="#089981"/>
<rect x="1326" y="613" width="1" height="14" fill="#f23645"/>
<rect x="1324" y="615" width="5" height="8" fill="#f23645"/>
<rect x="1332" y="621" width="1" height="6" fill="#f23645"/>
<rect x="1330" y="622" width="5" height="3" fill="#f23645"/>
<rect x="1338" y="613" width="1" height="12" fill="#089981"/>
<rect x="1336" y="614" width="5" height="11" fill="#089981"/>
<rect x="1344" y="608" width="1" height="10" fill="#f23645"/>
<rect x="1342" y="614" width="5" height="5" fill="#f23645"/>
<rect x="1350" y="614" width="1" height="25" fill="#f23645"/>
<rect x="1348" y="618" width="5" height="10" fill="#f23645"/>
<rect x="1356" y="613" width="1" height="15" fill="#089981"/>
<rect x="1354" y="617" width="5" height="11" fill="#089981"/>
<rect x="1362" y="610" width="1" height="9" fill="#089981"/>
<rect x="1360" y="613" width="5" height="5" fill="#089981"/>
<rect x="1368" y="609" width="1" height="7" fill="#f23645"/>
<rect x="1366" y="613" width="5" height="3" fill="#f23645"/>
<rect x="1374" y="604" width="1" height="12" fill="#089981"/>
<rect x="1372" y="605" width="5" height="11" fill="#089981"/>
<rect x="1380" y="599" width="1" height="9" fill="#089981"/>
<rect x="1378" y="603" width="5" height="3" fill="#089981"/>
<rect x="1386" y="601" width="1" height="11" fill="#f23645"/>
<rect x="1384" y="603" width="5" height="5" fill="#f23645"/>
<rect x="1392" y="592" width="1" height="17" fill="#089981"/>
<rect x="1390" y="593" width="5" height="15" fill="#089981"/>
<rect x="1398" y="565" width="1" height="31" fill="#089981"/>
<rect x="1396" y="566" width="5" height="28" fill="#089981"/>
<rect x="1404" y="522" width="1" height="54" fill="#089981"/>
<rect x="1402" y="524" width="5" height="43" fill="#089981"/>
<rect x="1410" y="465" width="1" height="65" fill="#089981"/>
<rect x="1408" y="505" width="5" height="20" fill="#089981"/>
<rect x="1416" y="390" width="1" height="119" fill="#089981"/>
<rect x="1414" y="450" width="5" height="56" fill="#089981"/>
<rect x="1422" y="374" width="1" height="77" fill="#089981"/>
<rect x="1420" y="388" width="5" height="63" fill="#089981"/>
<rect x="1428" y="360" width="1" height="82" fill="#f23645"/>
<rect x="1426" y="388" width="5" height="5" fill="#f23645"/>
<rect x="1434" y="384" width="1" height="135" fill="#f23645"/>
<rect x="1432" y="392" width="5" height="95" fill="#f23645"/>
<rect x="1440" y="468" width="1" height="57" fill="#f23645"/>
<rect x="1438" y="486" width="5" height="11" fill="#f23645"/>
<rect x="1446" y="462" width="1" height="61" fill="#089981"/>
<rect x="1444" y="467" width="5" height="30" fill="#089981"/>
<rect x="1452" y="426" width="1" height="60" fill="#089981"/>
<rect x="1450" y="441" width="5" height="27" fill="#089981"/>
<rect x="1458" y="414" width="1" height="61" fill="#f23645"/>
<rect x="1456" y="441" width="5" height="16" fill="#f23645"/>
<rect x="1464" y="350" width="1" height="109" fill="#089981"/>
<rect x="1462" y="376" width="5" height="81" fill="#089981"/>
<rect x="1470" y="341" width="1" height="72" fill="#f23645"/>
<rect x="1468" y="376" width="5" height="21" fill="#f23645"/>
<rect x="1476" y="386" width="1" height="79" fill="#f23645"/>
<rect x="1474" y="396" width="5" height="50" fill="#f23645"/>
<rect x="1482" y="437" width="1" height="69" fill="#f23645"/>
<rect x="1480" y="445" width="5" height="37" fill="#f23645"/>
<rect x="1488" y="447" width="1" height="53" fill="#089981"/>
<rect x="1486" y="459" width="5" height="23" fill="#089981"/>
<rect x="1494" y="436" width="1" height="51" fill="#089981"/>
<rect x="1492" y="448" width="5" height="12" fill="#089981"/>
<rect x="1500" y="440" width="1" height="45" fill="#f23645"/>
<rect x="1498" y="448" width="5" height="37" fill="#f23645"/>
<rect x="1506" y="473" width="1" height="67" fill="#f23645"/>
<rect x="1504" y="484" width="5" height="28" fill="#f23645"/>
<rect x="1512" y="510" width="1" height="66" fill="#f23645"/>
<rect x="1510" y="511" width="5" height="55" fill="#f23645"/>
<rect x="1518" y="544" width="1" height="27" fill="#089981"/>
<rect x="1516" y="550" width="5" height="16" fill="#089981"/>
<rect x="1524" y="541" width="1" height="26" fill="#f23645"/>
<rect x="1522" y="550" width="5" height="16" fill="#f23645"/>
<rect x="1530" y="552" width="1" height="22" fill="#f23645"/>
<rect x="1528" y="565" width="5" height="4" fill="#f23645"/>
<rect x="1536" y="560" width="1" height="13" fill="#089981"/>
<rect x="1534" y="563" width="5" height="6" fill="#089981"/>
<rect x="1542" y="558" width="1" height="28" fill="#f23645"/>
<rect x="1540" y="563" width="5" height="16" fill="#f23645"/>
<rect x="1548" y="572" width="1" height="10" fill="#f23645"/>
<rect x="1546" y="578" width="5" height="4" fill="#f23645"/>
<rect x="1554" y="547" width="1" height="34" fill="#089981"/>
<rect x="1552" y="551" width="5" height="31" fill="#089981"/>
<rect x="1560" y="541" width="1" height="18" fill="#089981"/>
<rect x="1558" y="551" width="5" height="1" fill="#089981"/>
<rect x="1566" y="523" width="1" height="44" fill="#089981"/>
<rect x="1564" y="526" width="5" height="26" fill="#089981"/>
<rect x="1572" y="515" width="1" height="18" fill="#089981"/>
<rect x="1570" y="523" width="5" height="4" fill="#089981"/>
<rect x="1578" y="520" width="1" height="19" fill="#f23645"/>
<rect x="1576" y="523" width="5" height="10" fill="#f23645"/>
<rect x="1584" y="513" width="1" height="30" fill="#089981"/>
<rect x="1582" y="517" width="5" height="16" fill="#089981"/>
<rect x="1590" y="511" width="1" height="14" fill="#f23645"/>
<rect x="1588" y="517" width="5" height="7" fill="#f23645"/>
<rect x="1596" y="518" width="1" height="23" fill="#f23645"/>
<rect x="1594" y="523" width="5" height="16" fill="#f23645"/>
<rect x="1602" y="531" width="1" height="12" fill="#089981"/>
<rect x="1600" y="533" width="5" height="6" fill="#089981"/>
<rect x="1608" y="495" width="1" height="40" fill="#089981"/>
<rect x="1606" y="498" width="5" height="36" fill="#089981"/>
<rect x="1614" y="481" width="1" height="20" fill="#089981"/>
<rect x="1612" y="484" width="5" height="15" fill="#089981"/>
<rect x="1620" y="452" width="1" height="33" fill="#089981"/>
<rect x="1618" y="463" width="5" height="22" fill="#089981"/>
<rect x="1626" y="432" width="1" height="49" fill="#089981"/>
<rect x="1624" y="462" width="5" height="2" fill="#089981"/>
<rect x="1632" y="364" width="1" height="101" fill="#089981"/>
<rect x="1630" y="377" width="5" height="86" fill="#089981"/>
<rect x="1638" y="319" width="1" height="68" fill="#089981"/>
<rect x="1636" y="331" width="5" height="47" fill="#089981"/>
<rect x="1644" y="324" width="1" height="62" fill="#f23645"/>
<rect x="1642" y="331" width="5" height="49" fill="#f23645"/>
<rect x="1650" y="327" width="1" height="71" fill="#089981"/>
<rect x="1648" y="348" width="5" height="32" fill="#089981"/>
<rect x="1656" y="327" width="1" height="63" fill="#f23645"/>
<rect x="1654" y="348" width="5" height="23" fill="#f23645"/>
<rect x="1662" y="337" width="1" height="75" fill="#089981"/>
<rect x="1660" y="361" width="5" height="10" fill="#089981"/>
<rect x="1668" y="357" width="1" height="76" fill="#f23645"/>
<rect x="1666" y="361" width="5" height="27" fill="#f23645"/>
<rect x="1674" y="353" width="1" height="64" fill="#089981"/>
<rect x="1672" y="367" width="5" height="21" fill="#089981"/>
<rect x="1680" y="320" width="1" height="67" fill="#089981"/>
<rect x="1678" y="335" width="5" height="33" fill="#089981"/>
<rect x="1686" y="200" width="1" height="151" fill="#089981"/>
<rect x="1684" y="216" width="5" height="120" fill="#089981"/>
<rect x="1692" y="161" width="1" height="79" fill="#f23645"/>
<rect x="1690" y="216" width="5" height="15" fill="#f23645"/>
<rect x="1698" y="157" width="1" height="92" fill="#089981"/>
<rect x="1696" y="189" width="5" height="42" fill="#089981"/>
<rect x="1704" y="187" width="1" height="112" fill="#f23645"/>
<rect x="1702" y="189" width="5" height="83" fill="#f23645"/>
<rect x="1710" y="222" width="1" height="84" fill="#f23645"/>
<rect x="1708" y="271" width="5" height="9" fill="#f23645"/>
<rect x="1716" y="219" width="1" height="97" fill="#089981"/>
<rect x="1714" y="226" width="5" height="54" fill="#089981"/>
<rect x="1722" y="145" width="1" height="85" fill="#089981"/>
<rect x="1720" y="179" width="5" height="48" fill="#089981"/>
<rect x="1728" y="151" width="1" height="57" fill="#089981"/>
<rect x="1726" y="167" width="5" height="13" fill="#089981"/>
<rect x="1734" y="94" width="1" height="82" fill="#089981"/>
<rect x="1732" y="127" width="5" height="41" fill="#089981"/>
<rect x="1740" y="88" width="1" height="78" fill="#f23645"/>
<rect x="1738" y="127" width="5" height="36" fill="#f23645"/>
<rect x="1746" y="118" width="1" height="48" fill="#089981"/>
<rect x="1744" y="135" width="5" height="28" fill="#089981"/>
<rect x="1752" y="79" width="1" height="104" fill="#f23645"/>
<rect x="1750" y="135" width="5" height="22" fill="#f23645"/>
<rect x="1758" y="148" width="1" height="141" fill="#f23645"/>
<rect x="1756" y="156" width="5" height="88" fill="#f23645"/>
<rect x="1764" y="224" width="1" height="50" fill="#f23645"/>
<rect x="1762" y="243" width="5" height="15" fill="#f23645"/>
<rect x="1770" y="209" width="1" height="101" fill="#f23645"/>
<rect x="1768" y="257" width="5" height="41" fill="#f23645"/>
<rect x="1776" y="294" width="1" height="22" fill="#f23645"/>
<rect x="1774" y="297" width="5" height="12" fill="#f23645"/>
</g>
<line x1="1" y1="308.5" x2="1839" y2="308.5" stroke="#f23645" stroke-width="1" stroke-dasharray="1 2" shape-rendering="crispEdges"/>
<g shape-rendering="crispEdges" fill="#ff006a">
<rect x="1170" y="1075" width="1" height="7"/>
<rect x="1176" y="1074" width="1" height="8"/>
<rect x="1182" y="1070" width="1" height="12"/>
<rect x="1188" y="1065" width="1" height="17"/>
<rect x="1194" y="1066" width="1" height="16"/>
<rect x="1200" y="1067" width="1" height="15"/>
<rect x="1206" y="1072" width="1" height="10"/>
<rect x="1212" y="1074" width="1" height="8"/>
<rect x="1218" y="1077" width="1" height="5"/>
<rect x="1224" y="1081" width="1" height="1"/>
<rect x="1230" y="1081" width="1" height="2"/>
<rect x="1236" y="1081" width="1" height="4"/>
<rect x="1242" y="1081" width="1" height="5"/>
<rect x="1248" y="1081" width="1" height="7"/>
<rect x="1254" y="1081" width="1" height="10"/>
<rect x="1260" y="1081" width="1" height="11"/>
<rect x="1266" y="1081" width="1" height="12"/>
<rect x="1272" y="1081" width="1" height="12"/>
<rect x="1278" y="1081" width="1" height="12"/>
<rect x="1284" y="1081" width="1" height="10"/>
<rect x="1290" y="1081" width="1" height="5"/>
<rect x="1296" y="1080" width="1" height="2"/>
<rect x="1302" y="1078" width="1" height="4"/>
<rect x="1308" y="1077" width="1" height="5"/>
<rect x="1314" y="1078" width="1" height="4"/>
<rect x="1320" y="1078" width="1" height="4"/>
<rect x="1326" y="1080" width="1" height="2"/>
<rect x="1332" y="1081" width="1" height="2"/>
<rect x="1338" y="1081" width="1" height="1"/>
<rect x="1344" y="1081" width="1" height="1"/>
<rect x="1350" y="1081" width="1" height="4"/>
<rect x="1356" y="1081" width="1" height="3"/>
<rect x="1362" y="1081" width="1" height="2"/>
<rect x="1368" y="1081" width="1" height="2"/>
<rect x="1374" y="1080" width="1" height="2"/>
<rect x="1380" y="1078" width="1" height="4"/>
<rect x="1386" y="1079" width="1" height="3"/>
<rect x="1392" y="1076" width="1" height="6"/>
<rect x="1398" y="1070" width="1" height="12"/>
<rect x="1404" y="1058" width="1" height="24"/>
<rect x="1410" y="1049" width="1" height="33"/>
<rect x="1416" y="1034" width="1" height="48"/>
<rect x="1422" y="1015" width="1" height="67"/>
<rect x="1428" y="1008" width="1" height="74"/>
<rect x="1434" y="1027" width="1" height="55"/>
<rect x="1440" y="1045" width="1" height="37"/>
<rect x="1446" y="1053" width="1" height="29"/>
<rect x="1452" y="1055" width="1" height="27"/>
<rect x="1458" y="1062" width="1" height="20"/>
<rect x="1464" y="1053" width="1" height="29"/>
<rect x="1470" y="1054" width="1" height="28"/>
<rect x="1476" y="1066" width="1" height="16"/>
<rect x="1482" y="1081" width="1" height="3"/>
<rect x="1488" y="1081" width="1" height="11"/>
<rect x="1494" y="1081" width="1" height="15"/>
<rect x="1500" y="1081" width="1" height="24"/>
<rect x="1506" y="1081" width="1" height="36"/>
<rect x="1512" y="1081" width="1" height="53"/>
<rect x="1518" y="1081" width="1" height="59"/>
<rect x="1524" y="1081" width="1" height="63"/>
<rect x="1530" y="1081" width="1" height="64"/>
<rect x="1536" y="1081" width="1" height="61"/>
<rect x="1542" y="1081" width="1" height="59"/>
<rect x="1548" y="1081" width="1" height="56"/>
<rect x="1554" y="1081" width="1" height="45"/>
<rect x="1560" y="1081" width="1" height="36"/>
<rect x="1566" y="1081" width="1" height="24"/>
<rect x="1572" y="1081" width="1" height="14"/>
<rect x="1578" y="1081" width="1" height="9"/>
<rect x="1584" y="1081" width="1" height="3"/>
<rect x="1590" y="1080" width="1" height="2"/>
<rect x="1596" y="1080" width="1" height="2"/>
<rect x="1602" y="1080" width="1" height="2"/>
<rect x="1608" y="1073" width="1" height="9"/>
<rect x="1614" y="1066" width="1" height="16"/>
<rect x="1620" y="1058" width="1" height="24"/>
<rect x="1626" y="1054" width="1" height="28"/>
<rect x="1632" y="1036" width="1" height="46"/>
<rect x="1638" y="1019" width="1" height="63"/>
<rect x="1644" y="1021" width="1" height="61"/>
<rect x="1650" y="1019" width="1" height="63"/>
<rect x="1656" y="1027" width="1" height="55"/>
<rect x="1662" y="1033" width="1" height="49"/>
<rect x="1668" y="1046" width="1" height="36"/>
<rect x="1674" y="1052" width="1" height="30"/>
<rect x="1680" y="1053" width="1" height="29"/>
<rect x="1686" y="1032" width="1" height="50"/>
<rect x="1692" y="1025" width="1" height="57"/>
<rect x="1698" y="1017" width="1" height="65"/>
<rect x="1704" y="1033" width="1" height="49"/>
<rect x="1710" y="1049" width="1" height="33"/>
<rect x="1716" y="1052" width="1" height="30"/>
<rect x="1722" y="1047" width="1" height="35"/>
<rect x="1728" y="1046" width="1" height="36"/>
<rect x="1734" y="1040" width="1" height="42"/>
<rect x="1740" y="1048" width="1" height="34"/>
<rect x="1746" y="1051" width="1" height="31"/>
<rect x="1752" y="1061" width="1" height="21"/>
<rect x="1758" y="1081" width="1" height="8"/>
<rect x="1764" y="1081" width="1" height="29"/>
<rect x="1770" y="1081" width="1" height="51"/>
<rect x="1776" y="1081" width="1" height="66"/>
</g>
<path d="M1122.0 1078.3 L1128.0 1077.9 L1134.0 1077.8 L1140.0 1077.5 L1146.0 1076.2 L1152.0 1075.0 L1158.0 1073.7 L1164.0 1070.7 L1170.0 1068.9 L1176.0 1065.3 L1182.0 1058.6 L1188.0 1049.3 L1194.0 1046.6 L1200.0 1044.6 L1206.0 1047.3 L1212.0 1047.2 L1218.0 1049.5 L1224.0 1052.9 L1230.0 1054.4 L1236.0 1056.6 L1242.0 1059.2 L1248.0 1061.7 L1254.0 1066.6 L1260.0 1070.9 L1266.0 1074.7 L1272.0 1077.3 L1278.0 1079.1 L1284.0 1079.2 L1290.0 1075.6 L1296.0 1070.2 L1302.0 1067.0 L1308.0 1065.2 L1314.0 1065.5 L1320.0 1064.9 L1326.0 1066.4 L1332.0 1068.2 L1338.0 1067.3 L1344.0 1067.7 L1350.0 1070.6 L1356.0 1070.4 L1362.0 1069.5 L1368.0 1069.3 L1374.0 1066.7 L1380.0 1064.6 L1386.0 1064.0 L1392.0 1060.4 L1398.0 1051.2 L1404.0 1033.7 L1410.0 1016.0 L1416.0 989.1 L1422.0 953.8 L1428.0 928.8 L1434.0 934.0 L1440.0 942.3 L1446.0 943.2 L1452.0 939.0 L1458.0 941.2 L1464.0 924.7 L1470.0 918.5 L1476.0 927.6 L1482.0 945.2 L1488.0 955.2 L1494.0 961.9 L1500.0 977.4 L1506.0 997.3 L1512.0 1027.3 L1518.0 1047.6 L1524.0 1067.6 L1530.0 1084.1 L1536.0 1095.8 L1542.0 1108.5 L1548.0 1118.9 L1554.0 1119.2 L1560.0 1118.9 L1566.0 1112.3 L1572.0 1105.9 L1578.0 1102.9 L1584.0 1096.6 L1590.0 1092.9 L1596.0 1093.6 L1602.0 1092.8 L1608.0 1083.4 L1614.0 1072.6 L1620.0 1059.0 L1626.0 1048.3 L1632.0 1019.3 L1638.0 985.8 L1644.0 972.8 L1650.0 956.0 L1656.0 949.7 L1662.0 944.1 L1668.0 947.7 L1674.0 947.1 L1680.0 940.3 L1686.0 907.1 L1692.0 886.5 L1698.0 862.3 L1704.0 866.3 L1710.0 873.9 L1716.0 869.1 L1722.0 856.0 L1728.0 845.4 L1734.0 830.0 L1740.0 829.4 L1746.0 825.2 L1752.0 829.8 L1758.0 858.0 L1764.0 886.0 L1770.0 920.1 L1776.0 951.3" fill="none" stroke="#2196f3" stroke-width="1" stroke-linejoin="round"/>
<path d="M1170.0 1075.1 L1176.0 1073.1 L1182.0 1070.2 L1188.0 1066.0 L1194.0 1062.2 L1200.0 1058.6 L1206.0 1056.4 L1212.0 1054.5 L1218.0 1053.5 L1224.0 1053.4 L1230.0 1053.6 L1236.0 1054.2 L1242.0 1055.2 L1248.0 1056.5 L1254.0 1058.5 L1260.0 1061.0 L1266.0 1063.7 L1272.0 1066.5 L1278.0 1069.0 L1284.0 1071.0 L1290.0 1071.9 L1296.0 1071.6 L1302.0 1070.7 L1308.0 1069.6 L1314.0 1068.8 L1320.0 1068.0 L1326.0 1067.7 L1332.0 1067.8 L1338.0 1067.7 L1344.0 1067.7 L1350.0 1068.3 L1356.0 1068.7 L1362.0 1068.9 L1368.0 1068.9 L1374.0 1068.5 L1380.0 1067.7 L1386.0 1067.0 L1392.0 1065.7 L1398.0 1062.8 L1404.0 1057.0 L1410.0 1048.8 L1416.0 1036.8 L1422.0 1020.2 L1428.0 1001.9 L1434.0 988.4 L1440.0 979.2 L1446.0 972.0 L1452.0 965.4 L1458.0 960.5 L1464.0 953.4 L1470.0 946.4 L1476.0 942.6 L1482.0 943.1 L1488.0 945.6 L1494.0 948.8 L1500.0 954.5 L1506.0 963.1 L1512.0 975.9 L1518.0 990.3 L1524.0 1005.7 L1530.0 1021.4 L1536.0 1036.3 L1542.0 1050.7 L1548.0 1064.4 L1554.0 1075.3 L1560.0 1084.0 L1566.0 1089.7 L1572.0 1092.9 L1578.0 1094.9 L1584.0 1095.3 L1590.0 1094.8 L1596.0 1094.6 L1602.0 1094.2 L1608.0 1092.1 L1614.0 1088.2 L1620.0 1082.3 L1626.0 1075.5 L1632.0 1064.3 L1638.0 1048.6 L1644.0 1033.4 L1650.0 1017.9 L1656.0 1004.3 L1662.0 992.3 L1668.0 983.3 L1674.0 976.1 L1680.0 968.9 L1686.0 956.6 L1692.0 942.5 L1698.0 926.5 L1704.0 914.5 L1710.0 906.4 L1716.0 898.9 L1722.0 890.3 L1728.0 881.3 L1734.0 871.1 L1740.0 862.7 L1746.0 855.2 L1752.0 850.2 L1758.0 851.7 L1764.0 858.6 L1770.0 870.9 L1776.0 887.0" fill="none" stroke="#ff6d00" stroke-width="1" stroke-linejoin="round"/>
<path d="M1056.0 1404.6 L1062.0 1414.4 L1068.0 1402.7 L1074.0 1376.0 L1080.0 1341.6 L1086.0 1364.7 L1092.0 1386.4 L1098.0 1377.4 L1104.0 1355.7 L1110.0 1346.2 L1116.0 1310.1 L1122.0 1311.0 L1128.0 1286.3 L1134.0 1328.1 L1140.0 1300.3 L1146.0 1254.8 L1152.0 1250.1 L1158.0 1241.7 L1164.0 1222.5 L1170.0 1266.2 L1176.0 1242.8 L1182.0 1226.1 L1188.0 1217.7 L1194.0 1333.1 L1200.0 1331.1 L1206.0 1402.7 L1212.0 1376.3 L1218.0 1405.9 L1224.0 1422.8 L1230.0 1406.3 L1236.0 1417.6 L1242.0 1424.2 L1248.0 1429.1 L1254.0 1463.7 L1260.0 1467.8 L1266.0 1471.8 L1272.0 1464.5 L1278.0 1458.8 L1284.0 1437.0 L1290.0 1389.1 L1296.0 1364.1 L1302.0 1378.7 L1308.0 1387.7 L1314.0 1411.5 L1320.0 1400.1 L1326.0 1427.8 L1332.0 1433.9 L1338.0 1403.6 L1344.0 1417.9 L1350.0 1449.9 L1356.0 1419.7 L1362.0 1409.5 L1368.0 1414.6 L1374.0 1388.1 L1380.0 1384.6 L1386.0 1400.4 L1392.0 1367.3 L1398.0 1324.3 L1404.0 1286.5 L1410.0 1275.5 L1416.0 1253.8 L1422.0 1239.9 L1428.0 1248.8 L1434.0 1382.0 L1440.0 1392.4 L1446.0 1373.7 L1452.0 1359.1 L1458.0 1375.6 L1464.0 1336.4 L1470.0 1356.0 L1476.0 1398.7 L1482.0 1424.7 L1488.0 1412.0 L1494.0 1405.8 L1500.0 1432.7 L1506.0 1450.7 L1512.0 1482.2 L1518.0 1471.0 L1524.0 1479.4 L1530.0 1481.1 L1536.0 1477.0 L1542.0 1486.7 L1548.0 1488.6 L1554.0 1460.6 L1560.0 1460.5 L1566.0 1438.8 L1572.0 1435.8 L1578.0 1444.4 L1584.0 1430.4 L1590.0 1436.2 L1596.0 1451.4 L1602.0 1446.4 L1608.0 1411.8 L1614.0 1399.7 L1620.0 1383.1 L1626.0 1382.0 L1632.0 1330.6 L1638.0 1312.1 L1644.0 1363.6 L1650.0 1349.2 L1656.0 1370.0 L1662.0 1365.6 L1668.0 1389.8 L1674.0 1378.5 L1680.0 1362.0 L1686.0 1317.7 L1692.0 1329.9 L1698.0 1317.4 L1704.0 1379.9 L1710.0 1385.4 L1716.0 1364.8 L1722.0 1348.8 L1728.0 1345.1 L1734.0 1333.0 L1740.0 1358.4 L1746.0 1349.4 L1752.0 1364.4 L1758.0 1419.4 L1764.0 1426.6 L1770.0 1447.8 L1776.0 1453.3" fill="none" stroke="#8d1399" stroke-width="1" stroke-linejoin="round"/>
<g fill="#fff" fill-opacity="0.92">
<rect x="8" y="6" width="286" height="23"/>
<rect x="302" y="7" width="18" height="20"/>
<rect x="328" y="7" width="66.5" height="20"/>
<rect x="400" y="7" width="66.5" height="20"/>
<rect x="472" y="7" width="62.5" height="20"/>
<rect x="541" y="7" width="64.5" height="20"/>
<rect x="611" y="7" width="108" height="20"/>
<rect x="8" y="31" width="99" height="20"/>
<rect x="8" y="55" width="276" height="20"/>
<rect x="8" y="79" width="139" height="20"/>
<rect x="8" y="103" width="84" height="20"/>
<rect x="8" y="792" width="301" height="20"/>
<rect x="8" y="1185" width="115" height="20"/>
</g>
<g font-family="Liberation Sans, sans-serif" style="white-space:pre">
<text x="1847.2" y="750.5" font-size="12" fill="#0f0f0f" textLength="62.0" lengthAdjust="spacingAndGlyphs">−20,000.00</text>
<text x="1847.2" y="705.5" font-size="12" fill="#0f0f0f" textLength="62.0" lengthAdjust="spacingAndGlyphs">−10,000.00</text>
<text x="1847.2" y="660.5" font-size="12" fill="#0f0f0f" textLength="24.6" lengthAdjust="spacingAndGlyphs">0.00</text>
<text x="1847.2" y="613.5" font-size="12" fill="#0f0f0f" textLength="55.1" lengthAdjust="spacingAndGlyphs">10,000.00</text>
<text x="1847.2" y="568.5" font-size="12" fill="#0f0f0f" textLength="55.1" lengthAdjust="spacingAndGlyphs">20,000.00</text>
<text x="1847.2" y="522.5" font-size="12" fill="#0f0f0f" textLength="55.1" lengthAdjust="spacingAndGlyphs">30,000.00</text>
<text x="1847.2" y="476.5" font-size="12" fill="#0f0f0f" textLength="55.1" lengthAdjust="spacingAndGlyphs">40,000.00</text>
<text x="1847.2" y="431.5" font-size="12" fill="#0f0f0f" textLength="55.1" lengthAdjust="spacingAndGlyphs">50,000.00</text>
<text x="1847.2" y="385.5" font-size="12" fill="#0f0f0f" textLength="55.1" lengthAdjust="spacingAndGlyphs">60,000.00</text>
<text x="1847.2" y="339.5" font-size="12" fill="#0f0f0f" textLength="55.1" lengthAdjust="spacingAndGlyphs">70,000.00</text>
<text x="1847.2" y="293.5" font-size="12" fill="#0f0f0f" textLength="55.1" lengthAdjust="spacingAndGlyphs">80,000.00</text>
<text x="1847.2" y="248.5" font-size="12" fill="#0f0f0f" textLength="55.1" lengthAdjust="spacingAndGlyphs">90,000.00</text>
<text x="1847.2" y="202.5" font-size="12" fill="#0f0f0f" textLength="62.0" lengthAdjust="spacingAndGlyphs">100,000.00</text>
<text x="1847.2" y="156.5" font-size="12" fill="#0f0f0f" textLength="62.0" lengthAdjust="spacingAndGlyphs">110,000.00</text>
<text x="1847.2" y="111.5" font-size="12" fill="#0f0f0f" textLength="62.0" lengthAdjust="spacingAndGlyphs">120,000.00</text>
<text x="1847.2" y="65.5" font-size="12" fill="#0f0f0f" textLength="62.0" lengthAdjust="spacingAndGlyphs">130,000.00</text>
<text x="1847.2" y="19.5" font-size="12" fill="#0f0f0f" textLength="62.0" lengthAdjust="spacingAndGlyphs">140,000.00</text>
<text x="1847.2" y="1155.5" font-size="12" fill="#0f0f0f" textLength="55.2" lengthAdjust="spacingAndGlyphs">−5,000.00</text>
<text x="1847.2" y="1119.5" font-size="12" fill="#0f0f0f" textLength="55.2" lengthAdjust="spacingAndGlyphs">−2,500.00</text>
<text x="1847.2" y="1085.5" font-size="12" fill="#0f0f0f" textLength="24.6" lengthAdjust="spacingAndGlyphs">0.00</text>
<text x="1847.2" y="1049.5" font-size="12" fill="#0f0f0f" textLength="48.3" lengthAdjust="spacingAndGlyphs">2,500.00</text>
<text x="1847.2" y="1013.5" font-size="12" fill="#0f0f0f" textLength="48.3" lengthAdjust="spacingAndGlyphs">5,000.00</text>
<text x="1847.2" y="978.5" font-size="12" fill="#0f0f0f" textLength="48.3" lengthAdjust="spacingAndGlyphs">7,500.00</text>
<text x="1847.2" y="942.5" font-size="12" fill="#0f0f0f" textLength="55.1" lengthAdjust="spacingAndGlyphs">10,000.00</text>
<text x="1847.2" y="907.5" font-size="12" fill="#0f0f0f" textLength="55.1" lengthAdjust="spacingAndGlyphs">12,500.00</text>
<text x="1847.2" y="872.5" font-size="12" fill="#0f0f0f" textLength="55.1" lengthAdjust="spacingAndGlyphs">15,000.00</text>
<text x="1847.2" y="836.5" font-size="12" fill="#0f0f0f" textLength="55.1" lengthAdjust="spacingAndGlyphs">17,500.00</text>
<text x="1847.2" y="801.5" font-size="12" fill="#0f0f0f" textLength="55.1" lengthAdjust="spacingAndGlyphs">20,000.00</text>
<text x="1847.2" y="1542.5" font-size="12" fill="#0f0f0f" textLength="31.4" lengthAdjust="spacingAndGlyphs">30.00</text>
<text x="1847.2" y="1494.5" font-size="12" fill="#0f0f0f" textLength="31.4" lengthAdjust="spacingAndGlyphs">40.00</text>
<text x="1847.2" y="1445.5" font-size="12" fill="#0f0f0f" textLength="31.4" lengthAdjust="spacingAndGlyphs">50.00</text>
<text x="1847.2" y="1397.5" font-size="12" fill="#0f0f0f" textLength="31.4" lengthAdjust="spacingAndGlyphs">60.00</text>
<text x="1847.2" y="1349.5" font-size="12" fill="#0f0f0f" textLength="31.4" lengthAdjust="spacingAndGlyphs">70.00</text>
<text x="1847.2" y="1300.5" font-size="12" fill="#0f0f0f" textLength="31.4" lengthAdjust="spacingAndGlyphs">80.00</text>
<text x="1847.2" y="1252.5" font-size="12" fill="#0f0f0f" textLength="31.4" lengthAdjust="spacingAndGlyphs">90.00</text>
<text x="1847.2" y="1203.5" font-size="12" fill="#0f0f0f" textLength="38.3" lengthAdjust="spacingAndGlyphs">100.00</text>
<path d="M1840 81 h72 a2 2 0 0 1 2 2 v13 a2 2 0 0 1 -2 2 h-72 z" fill="#118480"/>
<text x="1847.2" y="93.0" font-size="12" fill="#fff" textLength="61.5" lengthAdjust="spacingAndGlyphs">124,235.22</text>
<path d="M1840 237 h65 a2 2 0 0 1 2 2 v13 a2 2 0 0 1 -2 2 h-65 z" fill="#872323"/>
<text x="1847.2" y="249.0" font-size="12" fill="#fff" textLength="54.5" lengthAdjust="spacingAndGlyphs">90,128.20</text>
<path d="M1840 300 h65 a2 2 0 0 1 2 2 v13 a2 2 0 0 1 -2 2 h-65 z" fill="#f23645"/>
<text x="1847.2" y="312.0" font-size="12" fill="#fff" textLength="54.5" lengthAdjust="spacingAndGlyphs">76,274.92</text>
<path d="M1840 387 h65 a2 2 0 0 1 2 2 v13 a2 2 0 0 1 -2 2 h-65 z" fill="#3b86b4"/>
<text x="1847.2" y="399.0" font-size="12" fill="#fff" textLength="54.5" lengthAdjust="spacingAndGlyphs">57,208.51</text>
<path d="M1840 404 h65 a2 2 0 0 1 2 2 v13 a2 2 0 0 1 -2 2 h-65 z" fill="#118480"/>
<text x="1847.2" y="416.0" font-size="12" fill="#fff" textLength="54.5" lengthAdjust="spacingAndGlyphs">56,021.19</text>
<path d="M1840 769 h43 a2 2 0 0 1 2 2 v14 h-45 z" fill="#ef5350"/>
<text x="1847.3" y="781.5" font-size="12" fill="#fff" textLength="33.2" lengthAdjust="spacingAndGlyphs">19.1 K</text>
<path d="M1840 879 h65 a2 2 0 0 1 2 2 v13 a2 2 0 0 1 -2 2 h-65 z" fill="#ff6d00"/>
<text x="1847.2" y="891.0" font-size="12" fill="#fff" textLength="54.5" lengthAdjust="spacingAndGlyphs">13,734.66</text>
<path d="M1840 943 h58 a2 2 0 0 1 2 2 v13 a2 2 0 0 1 -2 2 h-58 z" fill="#2196f3"/>
<text x="1847.2" y="955.0" font-size="12" fill="#fff" textLength="47.5" lengthAdjust="spacingAndGlyphs">9,190.99</text>
<path d="M1840 1138 h65 a2 2 0 0 1 2 2 v13 a2 2 0 0 1 -2 2 h-65 z" fill="#ff006a"/>
<text x="1847.2" y="1150.0" font-size="12" fill="#fff" textLength="54.5" lengthAdjust="spacingAndGlyphs">−4,543.67</text>
<path d="M1840 1445 h41 a2 2 0 0 1 2 2 v13 a2 2 0 0 1 -2 2 h-41 z" fill="#8d1399"/>
<text x="1847.2" y="1458.0" font-size="12" fill="#fff" textLength="30.5" lengthAdjust="spacingAndGlyphs">47.64</text>
<text x="978.0" y="1589" font-size="12" font-weight="bold" fill="#0f0f0f" text-anchor="middle" textLength="28" lengthAdjust="spacing">2015</text>
<text x="1050.0" y="1589" font-size="12" font-weight="bold" fill="#0f0f0f" text-anchor="middle" textLength="28" lengthAdjust="spacing">2016</text>
<text x="1122.0" y="1589" font-size="12" font-weight="bold" fill="#0f0f0f" text-anchor="middle" textLength="28" lengthAdjust="spacing">2017</text>
<text x="1194.0" y="1589" font-size="12" font-weight="bold" fill="#0f0f0f" text-anchor="middle" textLength="28" lengthAdjust="spacing">2018</text>
<text x="1266.0" y="1589" font-size="12" font-weight="bold" fill="#0f0f0f" text-anchor="middle" textLength="28" lengthAdjust="spacing">2019</text>
<text x="1338.0" y="1589" font-size="12" font-weight="bold" fill="#0f0f0f" text-anchor="middle" textLength="28" lengthAdjust="spacing">2020</text>
<text x="1410.0" y="1589" font-size="12" font-weight="bold" fill="#0f0f0f" text-anchor="middle" textLength="28" lengthAdjust="spacing">2021</text>
<text x="1482.0" y="1589" font-size="12" font-weight="bold" fill="#0f0f0f" text-anchor="middle" textLength="28" lengthAdjust="spacing">2022</text>
<text x="1554.0" y="1589" font-size="12" font-weight="bold" fill="#0f0f0f" text-anchor="middle" textLength="28" lengthAdjust="spacing">2023</text>
<text x="1626.0" y="1589" font-size="12" font-weight="bold" fill="#0f0f0f" text-anchor="middle" textLength="28" lengthAdjust="spacing">2024</text>
<text x="1698.0" y="1589" font-size="12" font-weight="bold" fill="#0f0f0f" text-anchor="middle" textLength="28" lengthAdjust="spacing">2025</text>
<text x="1770.0" y="1589" font-size="12" font-weight="bold" fill="#0f0f0f" text-anchor="middle" textLength="28" lengthAdjust="spacing">2026</text>
<text x="32.3" y="23.0" font-size="16" fill="#0f0f0f" textLength="51.1" lengthAdjust="spacingAndGlyphs">Bitcoin</text>
<text x="87.4" y="23.0" font-size="16" fill="#0f0f0f" textLength="5.7" lengthAdjust="spacingAndGlyphs">/</text>
<text x="98.1" y="23.0" font-size="16" fill="#0f0f0f" textLength="28.5" lengthAdjust="spacingAndGlyphs">U.S.</text>
<text x="131.4" y="23.0" font-size="16" fill="#0f0f0f" textLength="44.2" lengthAdjust="spacingAndGlyphs">Dollar</text>
<text x="182.9" y="23.0" font-size="16" fill="#0f0f0f" text-anchor="middle">·</text>
<text x="190.3" y="23.0" font-size="16" fill="#0f0f0f" textLength="21.3" lengthAdjust="spacingAndGlyphs">1M</text>
<text x="218.2" y="23.0" font-size="16" fill="#0f0f0f" text-anchor="middle">·</text>
<text x="224.4" y="23.0" font-size="16" fill="#0f0f0f" textLength="69.5" lengthAdjust="spacingAndGlyphs">Coinbase</text>
<text x="328.1" y="22.0" font-size="12.5" fill="#0f0f0f" textLength="9.7" lengthAdjust="spacingAndGlyphs">O</text>
<text x="339.4" y="22.0" font-size="12.5" fill="#f23645" textLength="55.0" lengthAdjust="spacingAndGlyphs">78,648.00</text>
<text x="400.0" y="22.0" font-size="12.5" fill="#0f0f0f" textLength="9.3" lengthAdjust="spacingAndGlyphs">H</text>
<text x="411.3" y="22.0" font-size="12.5" fill="#f23645" textLength="55.2" lengthAdjust="spacingAndGlyphs">79,337.99</text>
<text x="471.9" y="22.0" font-size="12.5" fill="#0f0f0f" textLength="7.5" lengthAdjust="spacingAndGlyphs">L</text>
<text x="479.4" y="22.0" font-size="12.5" fill="#f23645" textLength="55.0" lengthAdjust="spacingAndGlyphs">74,502.21</text>
<text x="540.7" y="22.0" font-size="12.5" fill="#0f0f0f" textLength="8.4" lengthAdjust="spacingAndGlyphs">C</text>
<text x="550.7" y="22.0" font-size="12.5" fill="#f23645" textLength="54.7" lengthAdjust="spacingAndGlyphs">76,274.92</text>
<text x="610.7" y="22.0" font-size="12.5" fill="#f23645" textLength="54.7" lengthAdjust="spacingAndGlyphs">−2,373.08</text>
<text x="668.8" y="22.0" font-size="12.5" fill="#f23645" textLength="49.3" lengthAdjust="spacingAndGlyphs">(−3.02%)</text>
<text x="9.9" y="46.0" font-size="12.5" fill="#0f0f0f" textLength="18.8" lengthAdjust="spacingAndGlyphs">Vol</text>
<text x="33.6" y="46.0" font-size="12.5" fill="#0f0f0f" text-anchor="middle">·</text>
<text x="38.1" y="46.0" font-size="12.5" fill="#0f0f0f" textLength="23.4" lengthAdjust="spacingAndGlyphs">BTC</text>
<text x="69.1" y="46.0" font-size="12.5" fill="#ef5350" textLength="34.5" lengthAdjust="spacingAndGlyphs">19.1 K</text>
<text x="10.0" y="70.0" font-size="12.5" fill="#0f0f0f" textLength="16.4" lengthAdjust="spacingAndGlyphs">BB</text>
<text x="29.1" y="70.0" font-size="12.5" fill="#6e6e6e" textLength="59.5" lengthAdjust="spacingAndGlyphs">20 close 2</text>
<text x="96.0" y="70.0" font-size="12.5" fill="#872323" textLength="55.4" lengthAdjust="spacingAndGlyphs">90,128.20</text>
<text x="157.5" y="70.0" font-size="12.5" fill="#118480" textLength="61.9" lengthAdjust="spacingAndGlyphs">124,235.22</text>
<text x="225.2" y="70.0" font-size="12.5" fill="#118480" textLength="55.6" lengthAdjust="spacingAndGlyphs">56,021.19</text>
<text x="10.0" y="94.0" font-size="12.5" fill="#0f0f0f" textLength="20.3" lengthAdjust="spacingAndGlyphs">MA</text>
<text x="33.3" y="94.0" font-size="12.5" fill="#6e6e6e" textLength="48.1" lengthAdjust="spacingAndGlyphs">50 close</text>
<text x="88.9" y="94.0" font-size="12.5" fill="#3b86b4" textLength="54.7" lengthAdjust="spacingAndGlyphs">57,208.51</text>
<text x="10.0" y="118.0" font-size="12.5" fill="#0f0f0f" textLength="20.3" lengthAdjust="spacingAndGlyphs">MA</text>
<text x="33.3" y="118.0" font-size="12.5" fill="#6e6e6e" textLength="55.3" lengthAdjust="spacingAndGlyphs">200 close</text>
<text x="10.2" y="807.0" font-size="12.5" fill="#0f0f0f" textLength="37.1" lengthAdjust="spacingAndGlyphs">MACD</text>
<text x="50.2" y="807.0" font-size="12.5" fill="#6e6e6e" textLength="77.4" lengthAdjust="spacingAndGlyphs">12 26 close 9</text>
<text x="135.2" y="807.0" font-size="12.5" fill="#ff006a" textLength="55.1" lengthAdjust="spacingAndGlyphs">−4,543.67</text>
<text x="196.1" y="807.0" font-size="12.5" fill="#2196f3" textLength="48.3" lengthAdjust="spacingAndGlyphs">9,190.99</text>
<text x="250.7" y="807.0" font-size="12.5" fill="#ff6d00" textLength="54.9" lengthAdjust="spacingAndGlyphs">13,734.66</text>
<text x="10.2" y="1200.0" font-size="12.5" fill="#0f0f0f" textLength="18.1" lengthAdjust="spacingAndGlyphs">RSI</text>
<text x="32.3" y="1200.0" font-size="12.5" fill="#6e6e6e" textLength="47.9" lengthAdjust="spacingAndGlyphs">14 close</text>
<text x="87.3" y="1200.0" font-size="12.5" fill="#8d1399" textLength="32.0" lengthAdjust="spacingAndGlyphs">47.64</text>
</g>
<circle cx="19" cy="17" r="9" fill="#f7931a"/>
<g transform="translate(19.05 17.05) rotate(14)" fill="#fff"><path fill-rule="evenodd" d="M-3.2 -3.9 H0.9 C3.3 -3.9 3.5 -0.7 1.7 -0.2 C4.1 0.2 3.9 3.9 1.1 3.9 H-3.2 Z M-1.3 -2.4 H0.5 C1.6 -2.4 1.6 -0.85 0.5 -0.85 H-1.3 Z M-1.3 0.6 H0.8 C2.1 0.6 2.1 2.4 0.8 2.4 H-1.3 Z"/><rect x="-1.7" y="-5.2" width="1" height="1.5"/><rect x="0.3" y="-5.2" width="1" height="1.5"/><rect x="-1.7" y="3.7" width="1" height="1.5"/><rect x="0.3" y="3.7" width="1" height="1.5"/></g>
<circle cx="311" cy="17" r="9" fill="#d9f0ec"/><circle cx="311" cy="17" r="4" fill="#089981"/>
<rect x="9.5" y="128.5" width="28" height="20" rx="3.5" fill="#fff" stroke="#e0e0e0"/>
<path d="M19.6 140.3 L23.5 136.9 L27.4 140.3" fill="none" stroke="#0f0f0f" stroke-width="1.3"/>
<circle cx="30.6" cy="1539" r="16.5" fill="#fff" stroke="#ececec" stroke-width="1"/>
<path d="M20 1534.1 h8.9 v10.8 h-3.9 v-6.9 h-5 z" fill="#111"/><circle cx="32" cy="1536" r="1.95" fill="#111"/><path d="M36.75 1534.1 h4.5 l-4.35 10.8 h-4.9 z" fill="#111"/>
<path d="M1875.6 1579 h7.6 l3.8 6.5 l-3.8 6.5 h-7.6 l-3.8 -6.5 z" fill="none" stroke="#0f0f0f" stroke-width="1.2" stroke-linejoin="round"/><circle cx="1879.4" cy="1585.5" r="2.2" fill="none" stroke="#0f0f0f" stroke-width="1.2"/>
</svg>
</body></html>
